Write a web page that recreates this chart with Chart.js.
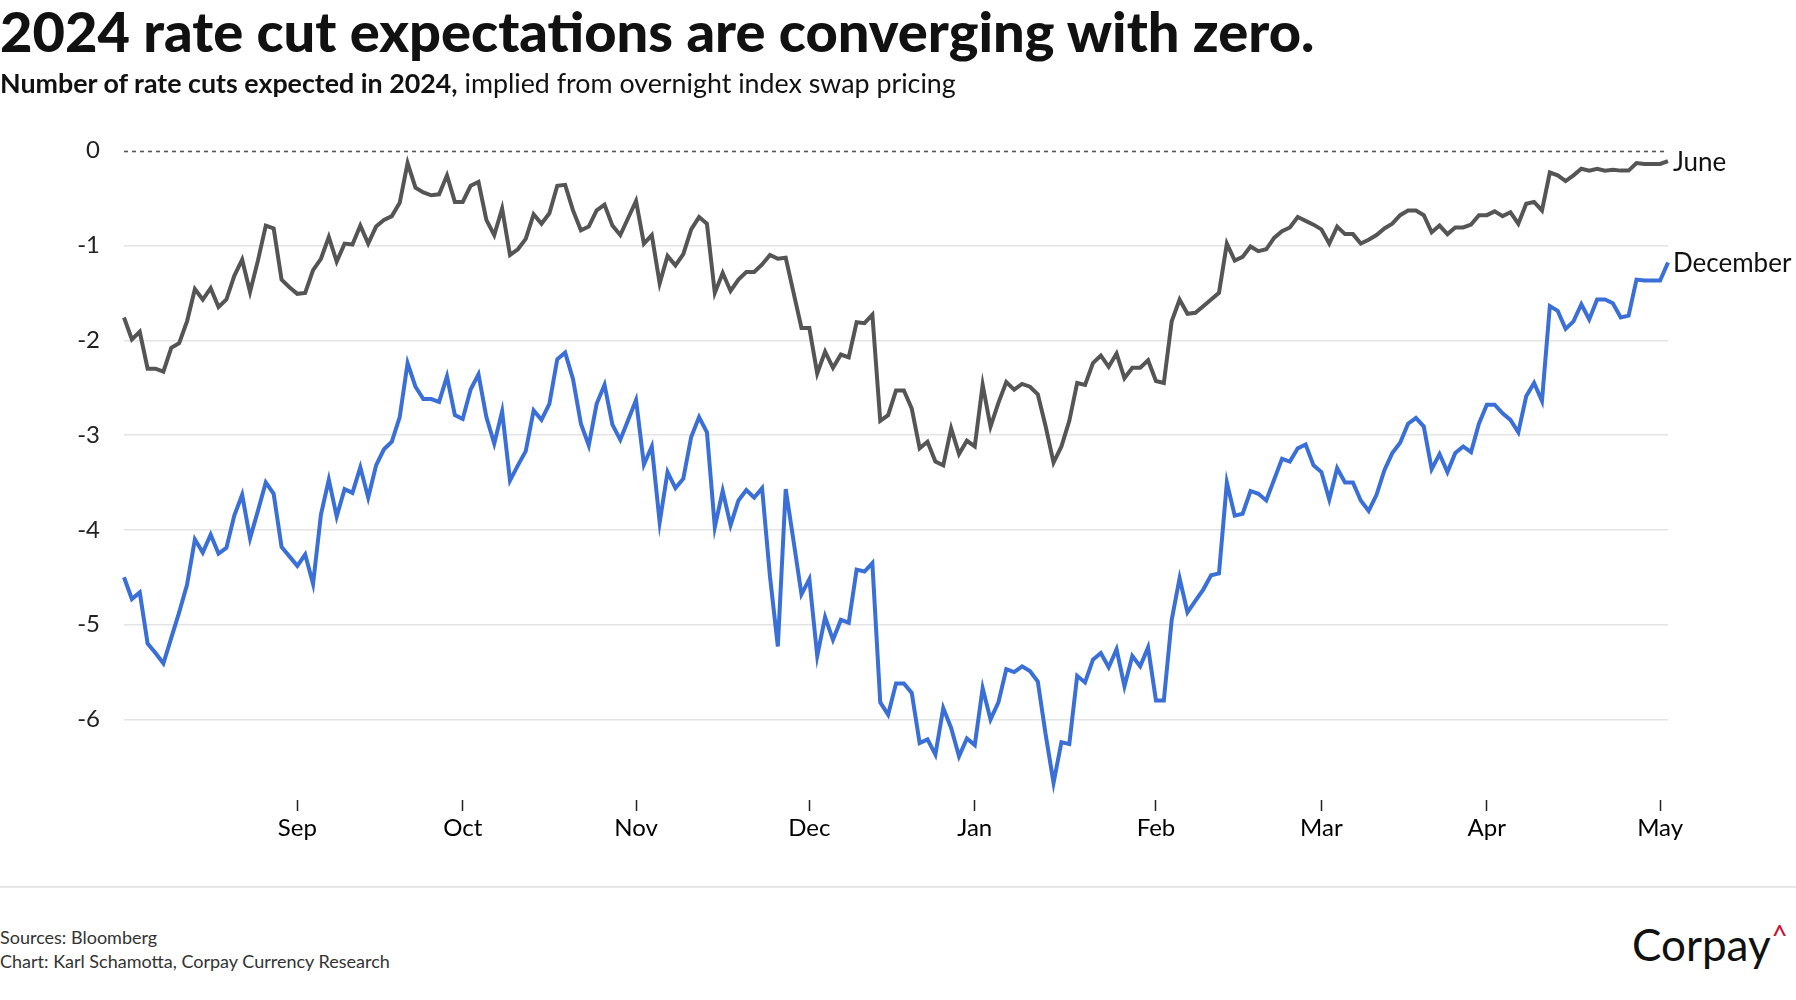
<!DOCTYPE html>
<html>
<head>
<meta charset="utf-8">
<script src="https://cdn.jsdelivr.net/npm/chart.js@4.4.1/dist/chart.umd.min.js"></script>
<style>
  body { margin: 0; background: #fff; font-family: Lato, sans-serif; }
  #wrap { position: relative; width: 1796px; height: 1000px; overflow: hidden; }
  #chart { position: absolute; left: 0; top: 0; }
  .title { position: absolute; left: 0; top: 3px; font-size: 56px; font-weight: 900; line-height: 1; color: #111; white-space: nowrap; }
  .sub { position: absolute; left: 0; top: 70px; font-size: 26.8px; line-height: 1; color: #111; white-space: nowrap; }
  .sub b { font-weight: 700; }
  .rule { position: absolute; left: 0; top: 886px; width: 1796px; height: 2px; background: #e6e6e6; }
  .foot { position: absolute; left: 0; font-size: 18px; line-height: 1; color: #333; white-space: nowrap; }
  .logo { position: absolute; left: 1632px; top: 921px; font-size: 44px; line-height: 1; color: #111; white-space: nowrap; }
  .logo span { color: #c4122f; font-size: 28px; vertical-align: 15px; margin-left: 1px; }
</style>
</head>
<body>
<div id="wrap">
  <canvas id="chart" width="1796" height="880"></canvas>
  <div class="title">2024 rate cut expectations are converging with zero.</div>
  <div class="sub"><b>Number of rate cuts expected in 2024,</b> implied from overnight index swap pricing</div>
  <div class="rule"></div>
  <div class="foot" style="top:928px">Sources: Bloomberg</div>
  <div class="foot" style="top:952px">Chart: Karl Schamotta, Corpay Currency Research</div>
  <div class="logo">Corpay<span>^</span></div>
</div>
<script>
// Series - expected number of cuts, one value per weekday (2 Aug 2023 - 2 May 2024)

let juneCuts = [
  -1.76, -1.99, -1.91, -2.30, -2.30, -2.33, -2.08, -2.03, -1.80, -1.46,
  -1.57, -1.45, -1.65, -1.57, -1.32, -1.15, -1.49, -1.16, -0.79, -0.82,
  -1.36, -1.44, -1.51, -1.50, -1.26, -1.14, -0.91, -1.17, -0.98, -0.99,
  -0.79, -0.98, -0.80, -0.73, -0.69, -0.55, -0.13, -0.39, -0.44, -0.47,
  -0.46, -0.26, -0.54, -0.54, -0.37, -0.33, -0.73, -0.89, -0.61, -1.10,
  -1.04, -0.93, -0.67, -0.77, -0.66, -0.37, -0.36, -0.63, -0.84, -0.80,
  -0.63, -0.57, -0.79, -0.89, -0.71, -0.53, -0.98, -0.89, -1.40, -1.11,
  -1.21, -1.09, -0.83, -0.70, -0.77, -1.50, -1.29, -1.48, -1.36, -1.28,
  -1.28, -1.20, -1.10, -1.14, -1.13, -1.50, -1.87, -1.87, -2.35, -2.12,
  -2.29, -2.15, -2.18, -1.81, -1.82, -1.73, -2.85, -2.79, -2.53, -2.53,
  -2.72, -3.14, -3.07, -3.28, -3.32, -2.93, -3.20, -3.06, -3.12, -2.47,
  -2.91, -2.66, -2.44, -2.52, -2.46, -2.49, -2.57, -2.91, -3.29, -3.12,
  -2.85, -2.45, -2.47, -2.24, -2.16, -2.28, -2.14, -2.40, -2.29, -2.29,
  -2.21, -2.43, -2.45, -1.80, -1.57, -1.72, -1.71, -1.64, -1.57, -1.50,
  -0.98, -1.16, -1.12, -1.01, -1.06, -1.04, -0.92, -0.85, -0.81, -0.70,
  -0.74, -0.78, -0.83, -0.98, -0.80, -0.88, -0.88, -0.98, -0.94, -0.89,
  -0.82, -0.77, -0.68, -0.63, -0.63, -0.68, -0.86, -0.79, -0.88, -0.81,
  -0.81, -0.78, -0.68, -0.68, -0.64, -0.69, -0.65, -0.77, -0.56, -0.54,
  -0.63, -0.23, -0.26, -0.32, -0.26, -0.19, -0.21, -0.19, -0.21, -0.20,
  -0.21, -0.21, -0.13, -0.14, -0.14, -0.14, -0.11
];

let decemberCuts = [
  -4.50, -4.73, -4.66, -5.20, -5.30, -5.41, -5.14, -4.87, -4.58, -4.10,
  -4.24, -4.05, -4.25, -4.19, -3.85, -3.63, -4.09, -3.80, -3.50, -3.62,
  -4.18, -4.28, -4.38, -4.26, -4.57, -3.84, -3.47, -3.86, -3.57, -3.61,
  -3.34, -3.66, -3.32, -3.15, -3.07, -2.81, -2.24, -2.49, -2.62, -2.62,
  -2.65, -2.38, -2.79, -2.83, -2.52, -2.36, -2.81, -3.09, -2.75, -3.48,
  -3.32, -3.17, -2.74, -2.84, -2.67, -2.20, -2.13, -2.41, -2.88, -3.11,
  -2.67, -2.47, -2.89, -3.05, -2.84, -2.63, -3.31, -3.12, -3.92, -3.39,
  -3.56, -3.46, -3.02, -2.81, -2.97, -3.97, -3.59, -3.95, -3.69, -3.58,
  -3.66, -3.56, -4.49, -5.23, -3.57, -4.12, -4.68, -4.52, -5.33, -4.92,
  -5.16, -4.95, -4.98, -4.42, -4.44, -4.35, -5.82, -5.95, -5.62, -5.62,
  -5.72, -6.25, -6.21, -6.37, -5.88, -6.09, -6.39, -6.20, -6.27, -5.67,
  -6.00, -5.82, -5.47, -5.50, -5.44, -5.49, -5.60, -6.16, -6.67, -6.24,
  -6.26, -5.54, -5.61, -5.37, -5.30, -5.45, -5.26, -5.65, -5.33, -5.44,
  -5.24, -5.80, -5.80, -4.95, -4.51, -4.87, -4.75, -4.63, -4.48, -4.46,
  -3.50, -3.85, -3.83, -3.59, -3.62, -3.69, -3.47, -3.25, -3.28, -3.14,
  -3.10, -3.32, -3.39, -3.68, -3.35, -3.50, -3.50, -3.69, -3.80, -3.63,
  -3.37, -3.19, -3.08, -2.88, -2.82, -2.91, -3.36, -3.20, -3.39, -3.19,
  -3.12, -3.18, -2.88, -2.68, -2.68, -2.77, -2.84, -2.97, -2.59, -2.45,
  -2.64, -1.64, -1.69, -1.88, -1.80, -1.62, -1.78, -1.57, -1.57, -1.61,
  -1.76, -1.74, -1.36, -1.37, -1.37, -1.37, -1.18
];

// Axis labels

let seriesNames = ["June", "December"];
let monthLabels = ["Sep", "Oct", "Nov", "Dec", "Jan", "Feb", "Mar", "Apr", "May"];
let yTicks = [0, -1, -2, -3, -4, -5, -6];

// weekday dates for the category axis
let dates = [];
let d = new Date(Date.UTC(2023, 7, 2));
while (dates.length < juneCuts.length) {
  let wd = d.getUTCDay();
  if (wd !== 0 && wd !== 6) dates.push(d.toISOString().slice(0, 10));
  d.setUTCDate(d.getUTCDate() + 1);
}
// first weekday of each new month
let monthStarts = [];
for (let i = 1; i < dates.length; i++) {
  if (dates[i].slice(5, 7) !== dates[i - 1].slice(5, 7)) monthStarts.push(i);
}

const GREY = "#555555";
const BLUE = "#3a6fd8";

// dashed zero line + series names at the line ends
const extras = {
  id: "extras",
  beforeDatasetsDraw(chart) {
    const { ctx, chartArea, scales } = chart;
    const y0 = Math.round(scales.y.getPixelForValue(0)) + 0.5;
    ctx.save();
    ctx.strokeStyle = "#555";
    ctx.lineWidth = 1.6;
    ctx.setLineDash([4, 4]);
    ctx.beginPath();
    ctx.moveTo(chartArea.left, y0);
    ctx.lineTo(chartArea.right, y0);
    ctx.stroke();
    ctx.restore();
  },
  afterDatasetsDraw(chart) {
    const { ctx } = chart;
    ctx.save();
    ctx.font = "26px Lato";
    ctx.fillStyle = "#111";
    ctx.textBaseline = "middle";
    chart.data.datasets.forEach((ds, i) => {
      const pts = chart.getDatasetMeta(i).data;
      const p = pts[pts.length - 1];
      ctx.fillText(seriesNames[i], p.x + 5, p.y + 1);
    });
    ctx.restore();
  }
};

Chart.defaults.font.family = "Lato";

var ctx = document.getElementById("chart").getContext("2d");
var cutsChart = new Chart(ctx, {
  type: "line",
  data: {
    labels: dates,
    datasets: [
      {
        label: seriesNames[0],
        data: juneCuts,
        borderColor: GREY,
        borderWidth: 4,
        pointRadius: 0,
        tension: 0,
      },
      {
        label: seriesNames[1],
        data: decemberCuts,
        borderColor: BLUE,
        borderWidth: 4,
        pointRadius: 0,
        tension: 0,
      },
    ],
  },
  options: {
    responsive: false,
    animation: false,
    devicePixelRatio: 1,
    layout: { padding: { top: 131.75, right: 128, left: 0, bottom: 0 } },
    plugins: { legend: { display: false }, tooltip: { enabled: false } },
    scales: {
      x: {
        type: "category",
        border: { display: false },
        grid: {
          drawOnChartArea: false,
          drawTicks: true,
          tickLength: 11,
          tickColor: "#222",
          tickWidth: 1.5,
        },
        ticks: {
          autoSkip: false,
          maxRotation: 0,
          padding: 3,
          color: "#000",
          font: { size: 24 },
          callback: (v, i) => monthLabels[i],
        },
        afterBuildTicks: (axis) => {
          axis.ticks = monthStarts.map((v) => ({ value: v }));
        },
        afterFit: (axis) => {
          axis.height = 80;
        },
      },
      y: {
        min: -6.85,
        max: 0.2,
        border: { display: false },
        grid: {
          drawTicks: false,
          lineWidth: 1.5,
          color: (c) => (c.tick && c.tick.value === 0 ? "rgba(0,0,0,0)" : "#e4e4e4"),
        },
        ticks: {
          padding: 24,
          color: "#222",
          font: { size: 24 },
          callback: (v) => String(v),
        },
        afterBuildTicks: (axis) => {
          axis.ticks = yTicks.map((v) => ({ value: v }));
        },
        afterFit: (axis) => {
          axis.width = 124;
        },
      },
    },
  },
  plugins: [extras],
});
</script>
</body>
</html>
